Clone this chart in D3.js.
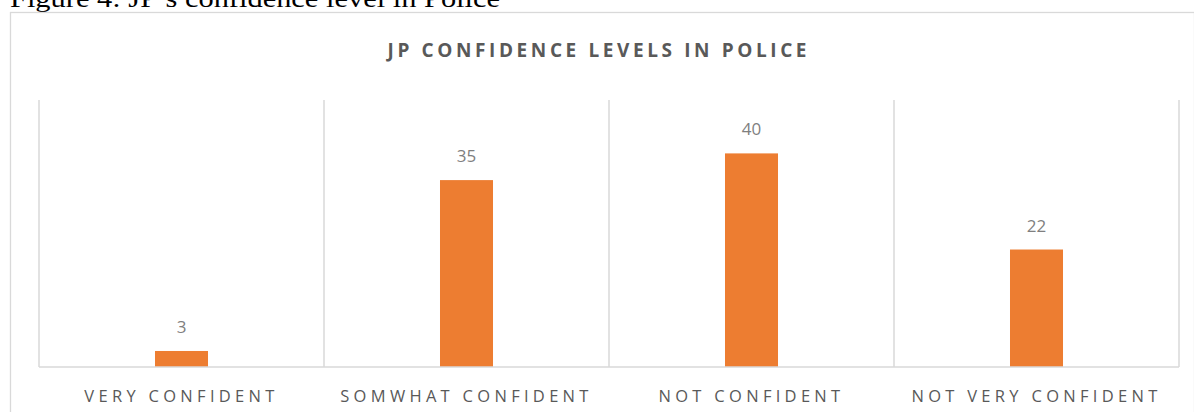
<!DOCTYPE html>
<html>
<head>
<meta charset="utf-8">
<script src="https://cdn.jsdelivr.net/npm/d3@7"></script>
<style>
  body { margin: 0; background: #fff; }
  svg { display: block; }
</style>
</head>
<body>
<svg id="chart"></svg>
<script>
// chart values
const categories = ['VERY CONFIDENT', 'SOMWHAT CONFIDENT', 'NOT CONFIDENT', 'NOT VERY CONFIDENT'];
const values = [3, 35, 40, 22];
const yDomain = [0, 50];
const chartTitle = 'JP CONFIDENCE LEVELS IN POLICE';
const caption = 'Figure 4: JP\u2019s confidence level in Police';

function drawChart(width, height) {
  let svg = d3.select('#chart').attr('width', width).attr('height', height);
  let margin = { left: 39, right: 15, top: 100, bottom: 45 },
    plotW = width - margin.left - margin.right,
    plotH = height - margin.top - margin.bottom;

  // caption above the frame (partly cut off at the top, as in the source)
  svg.append('text')
    .attr('x', 10)
    .attr('y', 7)
    .attr('font-family', '"Liberation Serif", "Times New Roman", serif')
    .attr('font-size', 26)
    .attr('fill', '#000')
    .attr('textLength', 490)
    .attr('lengthAdjust', 'spacingAndGlyphs')
    .text(caption);

  // chart frame
  svg.append('rect')
    .attr('x', 10.5)
    .attr('y', 12.5)
    .attr('width', width - 10)
    .attr('height', height)
    .attr('fill', 'none')
    .attr('stroke', '#d9d9d9')
    .attr('stroke-width', 1.3);

  svg.append('text')
    .attr('x', 597)
    .attr('y', 57)
    .attr('text-anchor', 'middle')
    .attr('font-family', '"Open Sans", sans-serif')
    .attr('font-weight', 'bold')
    .attr('font-size', 19)
    .attr('fill', '#595959')
    .attr('textLength', 419)
    .attr('lengthAdjust', 'spacing')
    .text(chartTitle);

  let x = d3.scaleBand().domain(categories).range([0, plotW]).paddingInner(0).paddingOuter(0);
  let y = d3.scaleLinear().domain(yDomain).range([plotH, 0]);

  let g = svg.append('g').attr('transform', 'translate(' + margin.left + ',' + margin.top + ')');

  // vertical category dividers
  let edges = categories.map(c => x(c)).concat([plotW]);
  g.selectAll('.divider')
    .data(edges)
    .enter()
    .append('line')
    .classed('divider', true)
    .attr('x1', d => d)
    .attr('x2', d => d)
    .attr('y1', 0)
    .attr('y2', plotH)
    .attr('stroke', '#d9d9d9')
    .attr('stroke-width', 1.5);

  let barW = x.bandwidth() * 0.186;
  g.selectAll('.bar')
    .data(values)
    .enter()
    .append('rect')
    .classed('bar', true)
    .attr('x', (d, i) => x(categories[i]) + x.bandwidth() / 2 - barW / 2)
    .attr('y', d => y(d))
    .attr('width', barW)
    .attr('height', d => plotH - y(d))
    .attr('fill', '#ed7d31');

  g.selectAll('.val')
    .data(values)
    .enter()
    .append('text')
    .classed('val', true)
    .attr('x', (d, i) => x(categories[i]) + x.bandwidth() / 2)
    .attr('y', d => y(d) - 18)
    .attr('text-anchor', 'middle')
    .attr('font-family', '"Open Sans", sans-serif')
    .attr('font-size', 17)
    .attr('fill', '#7f7f7f')
    .text(d => d);

  // baseline
  g.append('line')
    .attr('x1', 0)
    .attr('x2', plotW)
    .attr('y1', plotH)
    .attr('y2', plotH)
    .attr('stroke', '#d9d9d9')
    .attr('stroke-width', 1.5);

  g.selectAll('.cat')
    .data(categories)
    .enter()
    .append('text')
    .classed('cat', true)
    .attr('x', d => x(d) + x.bandwidth() / 2)
    .attr('y', plotH + 35)
    .attr('text-anchor', 'middle')
    .attr('font-family', '"Open Sans", sans-serif')
    .attr('font-size', 16.5)
    .attr('letter-spacing', '4.3px')
    .attr('fill', '#595959')
    .text(d => d);
}

drawChart(1194, 412);
</script>
</body>
</html>
